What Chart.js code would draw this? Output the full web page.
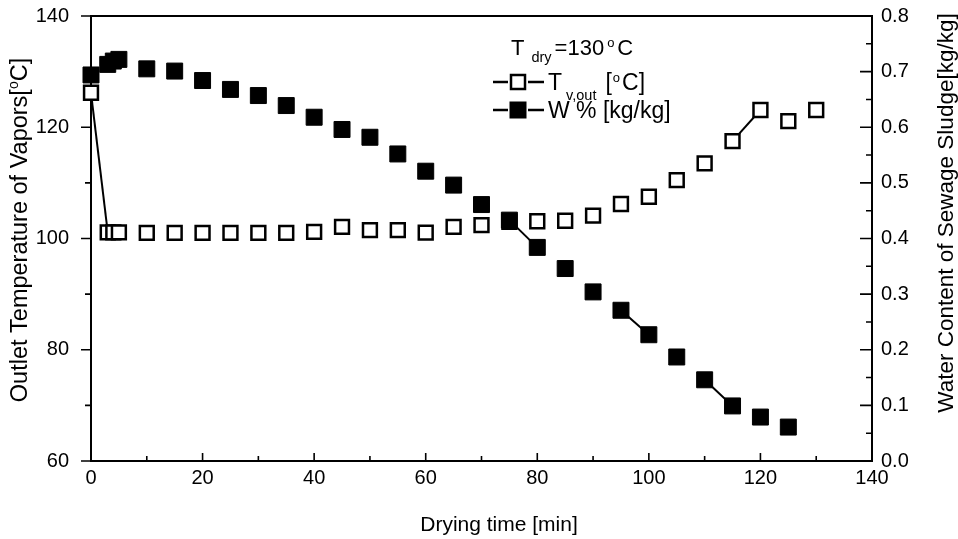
<!DOCTYPE html>
<html>
<head>
<meta charset="utf-8">
<script src="https://cdn.jsdelivr.net/npm/chart.js@4/dist/chart.umd.min.js"></script>
<style>
  html, body { margin: 0; padding: 0; background: #fff; }
  #wrap { width: 958px; height: 539px; position: relative; }
</style>
</head>
<body>
<div id="wrap"><canvas id="dryChart"></canvas></div>
<script>
// ── DATA ─────────────────────────────────────────────────
// drying time [min] for the water content series
const timeW  = [0, 3, 4, 5, 10, 15, 20, 25, 30, 35, 40, 45, 50, 55, 60, 65, 70,
                75, 80, 85, 90, 95, 100, 105, 110, 115, 120, 125];
// W % [kg/kg], right axis
const waterW = [0.694, 0.713, 0.719, 0.722, 0.705, 0.701, 0.684, 0.668, 0.657, 0.639,
                0.618, 0.596, 0.582, 0.552, 0.521, 0.496, 0.461, 0.433, 0.384, 0.346,
                0.304, 0.271, 0.227, 0.187, 0.146, 0.099, 0.079, 0.061];

// drying time [min] for the outlet vapour temperature series
const timeT  = [0, 3, 4, 5, 10, 15, 20, 25, 30, 35, 40, 45, 50, 55, 60, 65, 70,
                75, 80, 85, 90, 95, 100, 105, 110, 115, 120, 125, 130];
// T v,out [°C], left axis
const tempT  = [126.2, 101.1, 101.1, 101.1, 101.0, 101.0, 101.0, 101.0, 101.0, 101.0,
                101.2, 102.1, 101.5, 101.5, 101.05, 102.1, 102.4, 103.0, 103.1, 103.2,
                104.1, 106.2, 107.5, 110.5, 113.5, 117.5, 123.1, 121.1, 123.1];

// segments whose connecting line is visible (start time of the segment)
const linkedT = [0, 115];
const linkedW = [75, 95, 110];

// axis ranges / tick steps
const xRange  = [0, 140, 20];
const yRange  = [60, 140, 20];
const y1Range = [0, 0.8, 0.1];

// ── STYLE ────────────────────────────────────────────────
const FONT = '"Liberation Sans", Arial, sans-serif';
const INK  = "#000";

function toPoints(xs, ys) {
  return xs.map((x, i) => ({ x: x, y: ys[i] }));
}

function segColor(list) {
  return ctx => list.includes(ctx.p0.parsed.x) ? INK : "rgba(0,0,0,0)";
}

// draw a run of text pieces (normal / sub / sup) starting at x, baseline y
function drawRuns(ctx, runs, x, y, base) {
  let cx = x;
  runs.forEach(r => {
    const size = r.size || base;
    ctx.font = size + "px " + FONT;
    ctx.fillText(r.t, cx, y + (r.dy || 0));
    cx += ctx.measureText(r.t).width + (r.gap || 0);
  });
  return cx - x;
}

function runsWidth(ctx, runs, base) {
  let w = 0;
  runs.forEach(r => {
    ctx.font = (r.size || base) + "px " + FONT;
    w += ctx.measureText(r.t).width + (r.gap || 0);
  });
  return w;
}

function drawCentered(ctx, runs, cx, cy, base, rot) {
  ctx.save();
  ctx.translate(cx, cy);
  ctx.rotate(rot);
  ctx.textBaseline = "alphabetic";
  ctx.textAlign = "left";
  const w = runsWidth(ctx, runs, base);
  drawRuns(ctx, runs, -w / 2, base * 0.36, base);
  ctx.restore();
}

// ── FRAME + TICKS (under the markers) ────────────────────
const framePlugin = {
  id: "frame",
  beforeDatasetsDraw(chart) {
    const { ctx, chartArea: a, scales } = chart;
    ctx.save();
    ctx.strokeStyle = INK;
    ctx.lineWidth = 2;
    ctx.strokeRect(a.left, a.top, a.right - a.left, a.bottom - a.top);
    ctx.lineWidth = 1.6;
    ctx.beginPath();
    // bottom axis, inward ticks
    for (let v = xRange[0]; v <= xRange[1]; v += xRange[2] / 2) {
      const px = scales.x.getPixelForValue(v);
      const len = (v % xRange[2] === 0) ? 8 : 5;
      ctx.moveTo(px, a.bottom); ctx.lineTo(px, a.bottom - len);
    }
    // left axis, outward ticks
    for (let v = yRange[0]; v <= yRange[1]; v += yRange[2] / 2) {
      const py = scales.y.getPixelForValue(v);
      const len = (v % yRange[2] === 0) ? 10 : 6;
      ctx.moveTo(a.left, py); ctx.lineTo(a.left - len, py);
    }
    // right axis, inward ticks
    for (let i = 0; i <= 16; i++) {
      const v = i * y1Range[2] / 2;
      const py = scales.y1.getPixelForValue(v);
      const len = (i % 2 === 0) ? 12 : 6;
      ctx.moveTo(a.right, py); ctx.lineTo(a.right - len, py);
    }
    ctx.stroke();
    ctx.restore();
  },
  afterDraw(chart) {
    const { ctx } = chart;
    ctx.save();
    ctx.fillStyle = INK;

    // axis titles
    drawCentered(ctx, [{ t: "Drying time [min]" }], 499, 523, 21, 0);
    drawCentered(ctx, [
      { t: "Outlet Temperature of Vapors[" },
      { t: "o", size: 14, dy: -9 },
      { t: "C]" }
    ], 19, 230, 23.5, -Math.PI / 2);
    drawCentered(ctx, [{ t: "Water Content of Sewage Sludge[kg/kg]" }], 945, 213, 22.5, -Math.PI / 2);

    // legend
    ctx.textBaseline = "alphabetic";
    ctx.textAlign = "left";
    drawRuns(ctx, [
      { t: "T", gap: 7 },
      { t: "dry", size: 14.5, dy: 7, gap: 3 },
      { t: "=130", gap: 3 },
      { t: "o", size: 13, dy: -8, gap: 3 },
      { t: "C" }
    ], 511, 55, 22);

    const rows = [
      { y: 82, fill: "#fff", bw: 2.5, side: 14,
        runs: [{ t: "T", gap: 4 }, { t: "v,out", size: 14.5, dy: 10, gap: 9 },
               { t: "[", gap: 1 }, { t: "o", size: 13, dy: -8, gap: 2 }, { t: "C]" }] },
      { y: 110, fill: INK, bw: 1, side: 16,
        runs: [{ t: "W % [kg/kg]" }] }
    ];
    rows.forEach(r => {
      ctx.strokeStyle = INK;
      ctx.lineWidth = 2.5;
      ctx.beginPath();
      ctx.moveTo(493, r.y); ctx.lineTo(508, r.y);
      ctx.moveTo(528, r.y); ctx.lineTo(544, r.y);
      ctx.stroke();
      ctx.fillStyle = r.fill;
      ctx.lineWidth = r.bw;
      ctx.fillRect(518 - r.side / 2, r.y - r.side / 2, r.side, r.side);
      ctx.strokeRect(518 - r.side / 2, r.y - r.side / 2, r.side, r.side);
      ctx.fillStyle = INK;
      drawRuns(ctx, r.runs, 548, r.y + 8, 23);
    });
    ctx.restore();
  }
};

// ── CHART ────────────────────────────────────────────────
const tickFont = { family: FONT, size: 20 };

new Chart(document.getElementById("dryChart"), {
  type: "scatter",
  data: {
    datasets: [
      {
        label: "W % [kg/kg]",
        data: toPoints(timeW, waterW),
        yAxisID: "y1",
        showLine: true,
        borderColor: INK,
        borderWidth: 2,
        segment: { borderColor: segColor(linkedW) },
        pointStyle: "rect",
        pointRadius: 11.3,
        pointBorderWidth: 1,
        pointBackgroundColor: INK,
        pointBorderColor: INK,
        clip: false,
        order: 0,
      },
      {
        label: "T v,out [oC]",
        data: toPoints(timeT, tempT),
        yAxisID: "y",
        showLine: true,
        borderColor: INK,
        borderWidth: 2,
        segment: { borderColor: segColor(linkedT) },
        pointStyle: "rect",
        pointRadius: 9.8,
        pointBorderWidth: 2.5,
        pointBackgroundColor: "#fff",
        pointBorderColor: INK,
        clip: false,
        order: 1,
      },
    ],
  },
  options: {
    responsive:          true,
    maintainAspectRatio: false,
    animation:           false,
    layout: { padding: { top: 16, left: 0, right: 0, bottom: 0 } },
    plugins: {
      legend:  { display: false },
      tooltip: { enabled: false },
    },
    scales: {
      x: {
        type: "linear",
        min: xRange[0], max: xRange[1],
        grid:   { display: false, tickLength: 5 },
        border: { display: false },
        ticks:  { stepSize: xRange[2], color: INK, padding: 0, font: tickFont },
        afterFit: s => { s.height = 78; },
      },
      y: {
        position: "left",
        min: yRange[0], max: yRange[1],
        grid:   { display: false, tickLength: 22 },
        border: { display: false },
        ticks:  { stepSize: yRange[2], color: INK, padding: 0, font: tickFont },
        afterFit: s => { s.width = 91; },
      },
      y1: {
        position: "right",
        min: y1Range[0], max: y1Range[1],
        grid:   { display: false, tickLength: 9 },
        border: { display: false },
        ticks:  {
          stepSize: y1Range[2], color: INK, padding: 0, font: tickFont,
          callback: v => v.toFixed(1),
        },
        afterFit: s => { s.width = 86; },
      },
    },
  },
  plugins: [framePlugin],
});
</script>
</body>
</html>
